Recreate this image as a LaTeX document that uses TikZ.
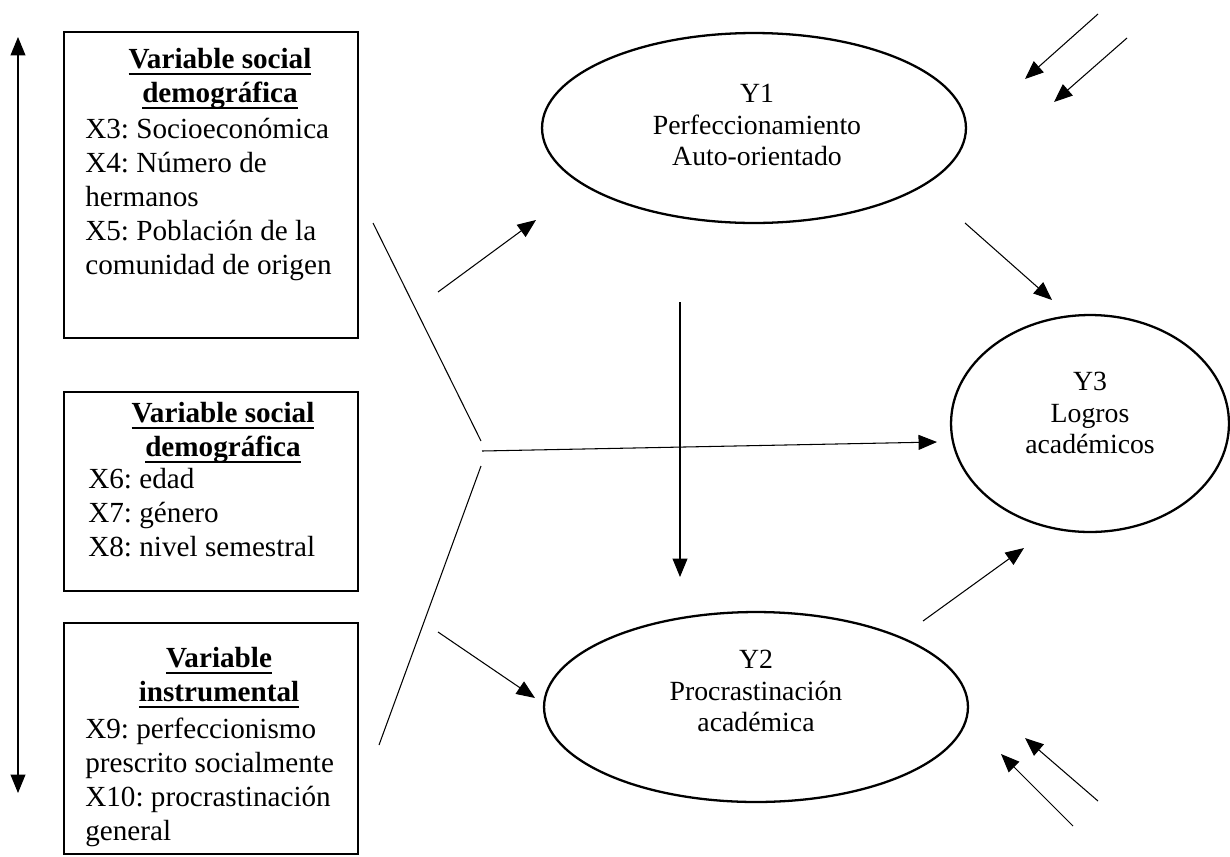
\documentclass[tikz,border=0pt]{standalone}
\usepackage{fontspec}
\setmainfont{Liberation Serif}
\usetikzlibrary{arrows.meta}
\usetikzlibrary{shapes.geometric}
\newcommand{\undl}[1]{\setbox0=\hbox{#1}\makebox[0pt][l]{\rule[-3.6pt]{\wd0}{1pt}}\box0}
\frenchspacing
\tikzset{varbox/.style={draw, line width=1.3pt, minimum width=5.88cm, inner sep=0pt},
  latent/.style={draw, ellipse, line width=1.3pt, inner sep=0pt},
  boxtitle/.style={font=\fontsize{16.6}{19.3}\selectfont\bfseries, align=center, inner sep=0pt, anchor=north},
  boxtext/.style={font=\fontsize{16.6}{19.3}\selectfont, align=left, inner sep=0pt, anchor=north west},
  lattext/.style={font=\fontsize{15.8}{17.9}\selectfont, align=center, inner sep=0pt, anchor=north},
  link/.style={line width=0.6pt},
  effect/.style={link, ->}}

\begin{document}
\begin{tikzpicture}[x=0.02cm, y=-0.02cm, >={Triangle[length=10.5pt,width=8.5pt]}]
      \useasboundingbox (0,0) rectangle (1230,856);

      % exogenous variables
      \node [varbox, minimum height=6.12cm] (box1) at (211,185) {};
      \node [boxtitle] (title1) at (220,48) {\undl{Variable social}\\\undl{demográfica}};
      \node [boxtext] (list1) at (85,118) {X3: Socioeconómica\\X4: Número de\\hermanos\\X5: Población de la\\comunidad de origen};

      \node [varbox, minimum height=3.98cm] (box2) at (211,491.5) {};
      \node [boxtitle] (title2) at (223,402) {\undl{Variable social}\\\undl{demográfica}};
      \node [boxtext] (list2) at (88,468) {X6: edad\\X7: género\\X8: nivel semestral};

      \node [varbox, minimum height=4.62cm] (box3) at (211,738.5) {};
      \node [boxtitle] (title3) at (219,647) {\undl{Variable}\\\undl{instrumental}};
      \node [boxtext] (list3) at (85,718) {X9: perfeccionismo\\prescrito socialmente\\X10: procrastinación\\general};

      % latent variables
      \node [latent, minimum width=8.48cm, minimum height=3.8cm] (y1) at (754,128) {};
      \node [lattext] (y1text) at (757,84) {Y1\\Perfeccionamiento\\Auto-orientado};
      \node [latent, minimum width=8.48cm, minimum height=3.8cm] (y2) at (756,707) {};
      \node [lattext] (y2text) at (756,650) {Y2\\Procrastinación\\académica};
      \node [latent, minimum width=5.56cm, minimum height=4.34cm] (y3) at (1090,423.5) {};
      \node [lattext] (y3text) at (1090,372) {Y3\\Logros\\académicos};

      % connector ends
      \coordinate (lefttop) at (18,37);
      \coordinate (leftbot) at (18,793);
      \coordinate (fanA) at (373,223);
      \coordinate (fanB) at (481,441);
      \coordinate (fanC) at (482,451);
      \coordinate (fanD) at (481,466);
      \coordinate (fanE) at (379,745);
      \coordinate (toY3) at (937,442);
      \coordinate (fromX1) at (438,292);
      \coordinate (toY1) at (536,220);
      \coordinate (fromX3) at (438,632);
      \coordinate (toY2) at (535,698);
      \coordinate (y1low) at (680,302);
      \coordinate (y2high) at (680,577);
      \coordinate (y1out) at (965,223);
      \coordinate (y3in) at (1052,300);
      \coordinate (y2out) at (923,621);
      \coordinate (y3low) at (1024,548);
      \coordinate (e1a) at (1098,14);
      \coordinate (e1b) at (1025,79);
      \coordinate (e2a) at (1127,38);
      \coordinate (e2b) at (1054,102);
      \coordinate (e3a) at (1073,826);
      \coordinate (e3b) at (1001,754);
      \coordinate (e4a) at (1098,801);
      \coordinate (e4b) at (1025,738);

      \draw [link, <->] (lefttop) -- (leftbot);

      \draw [link] (fanA) -- (fanB);
      \draw [link] (fanE) -- (fanD);
      \draw [effect] (fanC) -- (toY3);
      \draw [effect] (fromX1) -- (toY1);
      \draw [effect] (fromX3) -- (toY2);

      \draw [effect] (y1low) -- (y2high);
      \draw [effect] (y1out) -- (y3in);
      \draw [effect] (y2out) -- (y3low);

      % disturbances
      \draw [effect] (e1a) -- (e1b);
      \draw [effect] (e2a) -- (e2b);
      \draw [effect] (e3a) -- (e3b);
      \draw [effect] (e4a) -- (e4b);
    \end{tikzpicture}
\end{document}
